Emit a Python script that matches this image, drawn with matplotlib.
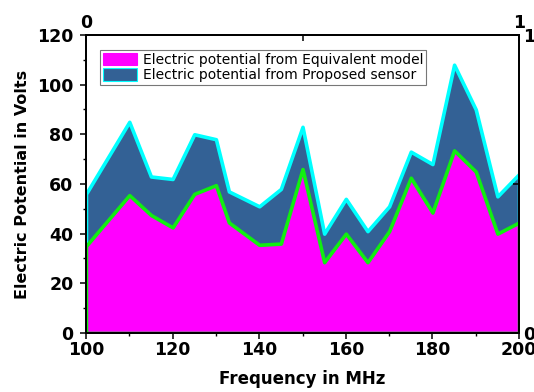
import matplotlib.pyplot as plt
from matplotlib.patches import Patch
from matplotlib.ticker import MultipleLocator

plt.rcParams['font.family'] = ['DejaVu Sans']

# values
freq = [100, 110, 115, 120, 125, 130, 133, 140, 145, 150,
        155, 160, 165, 170, 175, 180, 185, 190, 195, 200]
sensor = [56, 85, 63, 62, 80, 78, 57, 51, 58, 83,
          40, 54, 41, 51, 73, 68, 108, 90, 55, 64]
model = [35, 55.5, 47.5, 42.5, 56, 59.5, 44.5, 35.5, 36, 66,
         28.5, 40, 28.5, 41, 62.5, 48.5, 73.5, 65, 40, 44.5]
labels = ['Electric potential from Equivalent model',
          'Electric potential from Proposed sensor']

fig = plt.figure(figsize=(5.34, 3.92), dpi=100)
ax = fig.add_axes([0.161, 0.1505, 0.811, 0.7605])

ax.fill_between(freq, sensor, 0, facecolor='#336195', edgecolor='#00ffff', linewidth=2.6, zorder=2)
ax.fill_between(freq, model, 0, facecolor='#ff00ff', edgecolor='#11ee11', linewidth=2.6, zorder=3)

ax.set_xlim(100, 200)
ax.set_ylim(0, 120)
ax.xaxis.set_major_locator(MultipleLocator(20))
ax.xaxis.set_minor_locator(MultipleLocator(10))
ax.yaxis.set_major_locator(MultipleLocator(20))
ax.yaxis.set_minor_locator(MultipleLocator(10))
ax.tick_params(which='major', direction='out', length=4, width=1.1, labelsize=12.5, pad=2)
ax.tick_params(axis='y', which='major', pad=5)
ax.tick_params(which='minor', direction='out', length=2.5, width=1.0)
for t in ax.get_xticklabels() + ax.get_yticklabels():
    t.set_fontweight('bold')
for s in ax.spines.values():
    s.set_linewidth(1.2)
    s.set_zorder(5)

ax.set_xlabel('Frequency in MHz', fontsize=12, fontweight='bold', labelpad=8)
ax.set_ylabel('Electric Potential in Volts', fontsize=11.5, fontweight='bold', labelpad=5)

# top / right axes, 0..1 as in the original
top = ax.twiny()
top.set_xlim(0, 1)
top.set_xticks([0, 0.5, 1])
top.set_xticklabels(['0', '', '1'], fontsize=12.5, fontweight='bold')
top.tick_params(direction='in', length=4, width=1.1, pad=2)
right = ax.twinx()
right.set_ylim(0, 1)
right.set_yticks([0, 0.5, 1])
right.set_yticklabels(['0', '', '1'], fontsize=12.5, fontweight='bold')
right.tick_params(direction='in', length=4, width=1.1, pad=3)
for a in (top, right):
    for s in a.spines.values():
        s.set_linewidth(1.2)

handles = [Patch(facecolor='#ff00ff', edgecolor='#ff00ff', linewidth=0.8),
           Patch(facecolor='#336195', edgecolor='#00ffff', linewidth=0.8)]
leg = ax.legend(handles, labels, loc='upper left', bbox_to_anchor=(0.032, 0.95),
                fontsize=10, frameon=True, fancybox=False, borderpad=0.2,
                handlelength=2.5, handleheight=1.0, handletextpad=0.4,
                labelspacing=0.12, borderaxespad=0)
leg.get_frame().set_edgecolor('#555555')
leg.get_frame().set_linewidth(0.8)
leg.set_zorder(10)

fig.savefig('out.png', dpi=100)
